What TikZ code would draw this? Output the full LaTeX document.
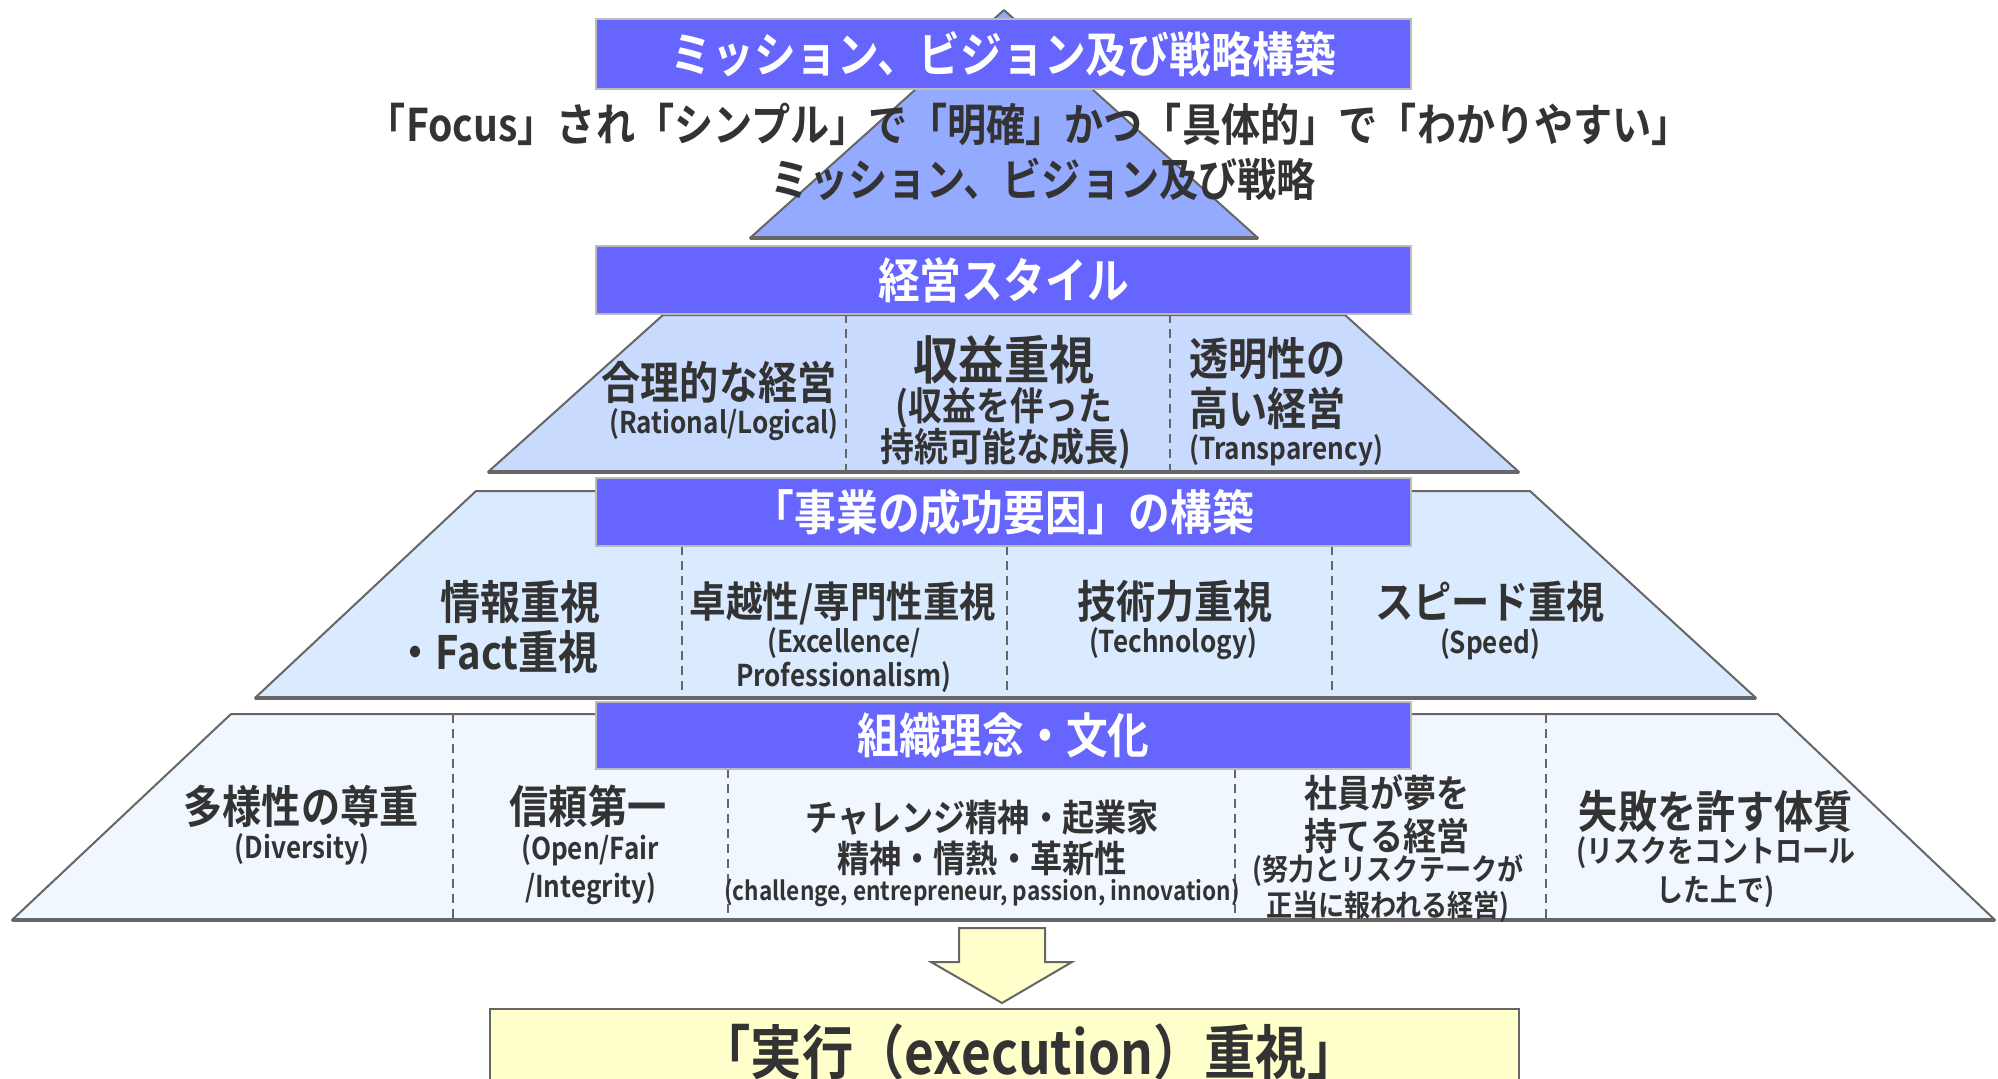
\documentclass[tikz,border=0pt]{standalone}
\usepackage{fontspec}
\setmainfont{Noto Sans CJK JP}[FakeStretch=0.87,BoldFont=* Bold]
\definecolor{boxblue}{HTML}{6666FF}
\definecolor{triA}{HTML}{94AAFF}
\definecolor{triB}{HTML}{C9DAFF}
\definecolor{triC}{HTML}{DBEBFF}
\definecolor{triD}{HTML}{F0F7FF}
\definecolor{pale}{HTML}{FFFFCC}
\definecolor{txt}{HTML}{333333}
\definecolor{edge}{HTML}{666666}
\definecolor{boxedge}{HTML}{BBBBBB}
\begin{document}
\begin{tikzpicture}[x=1pt,y=-1pt,
  band/.style={fill=#1, draw=edge, line width=2pt, line join=round},
  baseedge/.style={draw=edge, line width=3.5pt},
  title/.style={draw=boxedge, line width=2.5pt, fill=boxblue, text=white,
    font=\bfseries\fontsize{48pt}{48pt}\selectfont, minimum width=815pt, inner sep=0pt},
  divider/.style={draw=edge, line width=1.5pt, dash pattern=on 9pt off 6pt},
  lbl/.style={text=txt, inner sep=0pt, font=\bfseries\fontsize{#1}{#1}\selectfont}]
\useasboundingbox (0,0) rectangle (1998,1079);
% pyramid layers
\filldraw[band=triA] (1004,10) -- (1258,238) -- (750,238) -- cycle;
\draw[baseedge] (750,238) -- (1258,238);
\filldraw[band=triB] (663,315) -- (1345,315) -- (1519,472) -- (488,472) -- cycle;
\draw[baseedge] (488,472) -- (1519,472);
\filldraw[band=triC] (476,491) -- (1530,491) -- (1756,698) -- (255,698) -- cycle;
\draw[baseedge] (255,698) -- (1756,698);
\filldraw[band=triD] (231,714) -- (1778,714) -- (1995,920) -- (12,920) -- cycle;
\draw[baseedge] (12,920) -- (1995,920);
% dividers
\draw[divider] (846,314) -- (846,472);
\draw[divider] (1170,314) -- (1170,472);
\draw[divider] (682,546) -- (682,698);
\draw[divider] (1007,546) -- (1007,698);
\draw[divider] (1332,546) -- (1332,698);
\draw[divider] (453,714) -- (453,920);
\draw[divider] (728,769) -- (728,920);
\draw[divider] (1235,769) -- (1235,920);
\draw[divider] (1546,714) -- (1546,920);
% title boxes
\node[title, minimum height=70pt] (b1) at (1003.5,54) {ミッション、ビジョン及び戦略構築};
\node[title, minimum height=68pt] (b2) at (1003.5,280) {経営スタイル};
\node[title, minimum height=68pt] (b3) at (1003.5,512) {「事業の成功要因」の構築};
\node[title, minimum height=67pt] (b4) at (1003.5,735.5) {組織理念・文化};
% top text
\node[lbl=45pt] (l1) at (1029,124) {「Focus」され「シンプル」で「明確」かつ「具体的」で「わかりやすい」};
\node[lbl=45pt] (l2) at (1043,179) {ミッション、ビジョン及び戦略};
% band 2
\node[lbl=45pt] (a1) at (719,382) {合理的な経営};
\node[lbl=30pt] (a1e) at (724,425) {(Rational/Logical)};
\node[lbl=52pt] (a2) at (1004,360) {収益重視};
\node[lbl=39pt] (a2b) at (1004,408) {(収益を伴った};
\node[lbl=39pt] (a2c) at (1006,449) {持続可能な成長)};
\node[lbl=45pt, anchor=west] (a3) at (1189,359) {透明性の};
\node[lbl=45pt, anchor=west] (a3b) at (1189,408) {高い経営};
\node[lbl=30pt, anchor=west] (a3e) at (1189,450) {(Transparency)};
% band 3
\node[lbl=46pt, anchor=east] (c1) at (601,602) {情報重視};
\node[lbl=46pt, anchor=east] (c1b) at (599,652) {・Fact重視};
\node[lbl=42pt] (c2) at (843,603) {卓越性/専門性重視};
\node[lbl=30pt] (c2e) at (844,643) {(Excellence/};
\node[lbl=30pt] (c2f) at (844,677) {Professionalism)};
\node[lbl=45pt] (c3) at (1175,602) {技術力重視};
\node[lbl=30pt] (c3e) at (1173,644) {(Technology)};
\node[lbl=44pt] (c4) at (1490,602) {スピード重視};
\node[lbl=30pt] (c4e) at (1490,644) {(Speed)};
% band 4
\node[lbl=45pt] (d1) at (301,806) {多様性の尊重};
\node[lbl=30pt] (d1e) at (302,849) {(Diversity)};
\node[lbl=45pt] (d2) at (588,806) {信頼第一};
\node[lbl=30pt] (d2e) at (590,850) {(Open/Fair};
\node[lbl=30pt] (d2f) at (591,889) {/Integrity)};
\node[lbl=37pt] (d3) at (982,818) {チャレンジ精神・起業家};
\node[lbl=37pt] (d3b) at (982,858) {精神・情熱・革新性};
\node[lbl=26pt] (d3e) at (982,893) {(challenge, entrepreneur, passion, innovation)};
\node[lbl=38pt] (d4) at (1387,793) {社員が夢を};
\node[lbl=38pt] (d4b) at (1387,836) {持てる経営};
\node[lbl=30pt] (d4c) at (1388,871) {(努力とリスクテークが};
\node[lbl=30pt] (d4d) at (1388,907) {正当に報われる経営)};
\node[lbl=45pt] (d5) at (1716,811) {失敗を許す体質};
\node[lbl=31pt] (d5b) at (1716,853) {(リスクをコントロール};
\node[lbl=31pt] (d5c) at (1716,892) {した上で)};
% arrow and result
\filldraw[fill=pale, draw=edge, line width=2pt, line join=miter]
  (959,928) -- (1045,928) -- (1045,962) -- (1072,962) -- (1002,1003) -- (931,962) -- (959,962) -- cycle;
\node[draw=edge, line width=2pt, fill=pale, minimum width=1029pt, minimum height=110pt,
  anchor=north west, inner sep=0pt] (exec) at (489,1008) {};
\node[lbl=59pt] (exectext) at (1029,1052) {「実行（execution）重視」};
\end{tikzpicture}
\end{document}
